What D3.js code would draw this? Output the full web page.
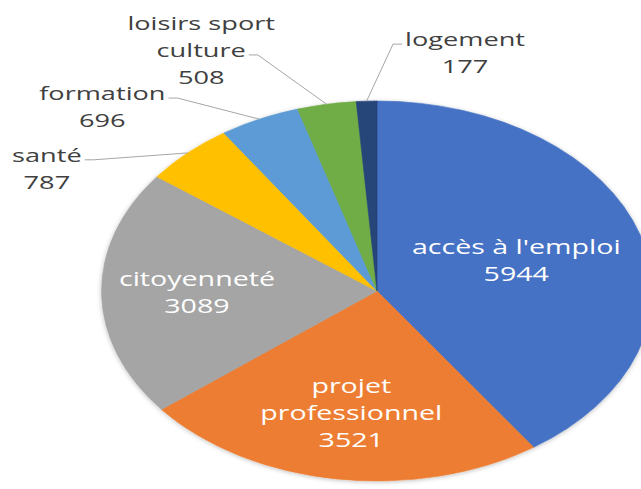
<!DOCTYPE html>
<meta charset="utf-8">
<head>
<style>
  body { margin: 0; background: #fff; }
  svg text { font-family: "Open Sans", "Noto Sans", sans-serif; }
</style>
</head>
<script src="https://d3js.org/d3.v7.min.js"></script>

<div id="pie"></div>
<script>

// data
var categories = ["accès à l'emploi", "projet professionnel", "citoyenneté", "santé", "formation", "loisirs sport culture", "logement"];
var values = [5944, 3521, 3089, 787, 696, 508, 177];
var colors = ["#4472C4", "#ED7D31", "#A5A5A5", "#FFC000", "#5B9BD5", "#70AD47", "#264478"];
// how each category name wraps in its label
var labelLines = [["accès à l'emploi"], ["projet", "professionnel"], ["citoyenneté"], ["santé"], ["formation"], ["loisirs sport", "culture"], ["logement"]];

var width = 641, height = 489;
var cx = 377, cy = 291, R = 190;
var pieStretch = 1.45;    // the picture is wider than tall
var textStretch = 1.43;
var inFont = 20, outFont = 19, lineH = 27;

// spots of the outside labels, in radius units from the centre (x of centre, y of first baseline)
var outerSpots = {
  "santé": [-1.215, -0.68],
  "formation": [-1.011, -1.005],
  "loisirs sport culture": [-0.647, -1.374],
  "logement": [0.324, -1.289]
};

var data = categories.map(function(c, i) {
  return {name: c, value: values[i], color: colors[i], lines: labelLines[i].concat([String(values[i])])};
});

var svg = d3.select("#pie")
  .append("svg")
    .attr("width", width)
    .attr("height", height)
    .style("display", "block");

svg.append("rect").attr("width", width).attr("height", height).attr("fill", "#fff");

var defs = svg.append("defs");
defs.append("filter").attr("id", "soft")
    .attr("x", "-10%").attr("y", "-10%").attr("width", "120%").attr("height", "120%")
  .append("feDropShadow")
    .attr("dx", 0).attr("dy", 1)
    .attr("stdDeviation", 2)
    .attr("flood-color", "#000")
    .attr("flood-opacity", 0.25);

var gPie = svg.append("g")
  .attr("transform", "translate(" + cx + "," + cy + ") scale(" + pieStretch + ",1)");
var gLines = svg.append("g");
var gText = svg.append("g")
  .attr("transform", "translate(" + cx + "," + cy + ") scale(" + textStretch + ",1)");

var pie = d3.pie().sort(null).value(function(d) { return d.value; });
var arcs = pie(data);
var total = d3.sum(values);

var arc = d3.arc().innerRadius(0).outerRadius(R);

gPie.append("g")
  .attr("filter", "url(#soft)")
  .selectAll("path.slice")
  .data(arcs)
  .enter()
  .append("path")
    .attr("class", "slice")
    .attr("d", arc)
    .attr("fill", function(d) { return d.data.color; })
    .attr("stroke", function(d) { return d.data.color; })
    .attr("stroke-width", 0.5);

// inside labels sit a bit beyond the area centroid of their slice
function insideSpot(d) {
  var a = (d.endAngle - d.startAngle) / 2;
  var mid = (d.startAngle + d.endAngle) / 2;
  var r = 1.07 * R * 2 * Math.sin(a) / (3 * a);
  return [r * Math.sin(mid), -r * Math.cos(mid)];
}

arcs.forEach(function(d) {
  var isInside = d.value / total > 0.1;
  var fs = isInside ? inFont : outFont;
  var t = gText.append("text")
    .attr("text-anchor", "middle")
    .style("font-size", fs + "px");
  var x, y0;
  if (isInside) {
    var c = insideSpot(d);
    x = c[0];
    y0 = c[1] - (d.data.lines.length - 1) * lineH / 2 + fs * 0.35;
    t.attr("fill", "#fff");
  } else {
    var s = outerSpots[d.data.name];
    x = s[0] * R;
    y0 = s[1] * R;
    t.attr("fill", "#404040");
  }
  d.data.lines.forEach(function(line, k) {
    t.append("tspan").attr("x", x).attr("y", y0 + k * lineH).text(line);
  });

  if (!isInside) {
    // leader line from the middle of the slice edge to the label, in page pixels
    var k = Math.floor((d.data.lines.length - 1) / 2);
    var span = t.selectAll("tspan").nodes()[k];
    var half = span.getComputedTextLength() / 2 * textStretch;
    var mid = (d.startAngle + d.endAngle) / 2;
    var px = cx + R * pieStretch * Math.sin(mid), py = cy - R * Math.cos(mid);
    var tx = cx + x * textStretch;
    var ly = cy + y0 + k * lineH - 2;
    var side = tx < px ? 1 : -1;
    var ex = tx + side * (half + 3);
    var hx = ex + side * 9;
    gLines.append("path")
      .attr("d", "M" + ex + "," + ly + "L" + hx + "," + ly + "L" + px + "," + py)
      .attr("fill", "none")
      .attr("stroke", "#A6A6A6")
      .attr("stroke-width", 1);
  }
});

</script>
